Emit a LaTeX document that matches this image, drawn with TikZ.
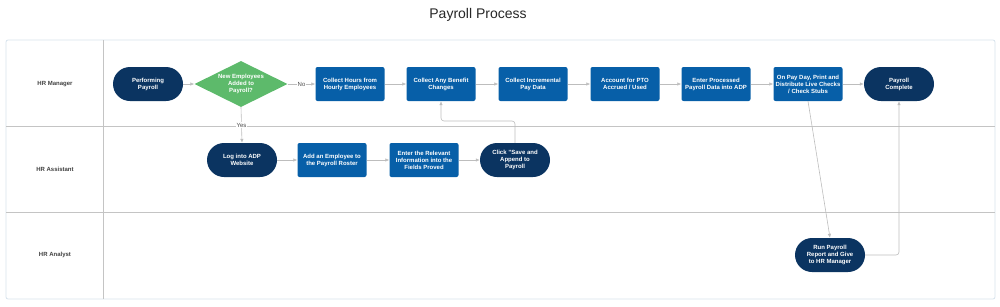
\documentclass[tikz,border=0pt]{standalone}
\usepackage{fontspec}
\setmainfont{Liberation Sans}
\usetikzlibrary{shapes.geometric,arrows.meta}
\definecolor{navy}{HTML}{0B3461}
\definecolor{boxblue}{HTML}{075FA8}
\definecolor{dgreen}{HTML}{5DBA6B}
\definecolor{lnc}{HTML}{BDBDBD}
\definecolor{frame}{HTML}{D6E2EC}
\definecolor{lane}{HTML}{C4C4C4}
\tikzset{
  stadium/.style={draw=none,fill=navy,rounded corners=17pt,minimum width=70pt,minimum height=34pt,
    text=white,font=\fontsize{6}{7}\selectfont\bfseries,align=center,inner sep=1pt},
  bluebox/.style={draw=none,fill=boxblue,rounded corners=2pt,minimum width=69pt,minimum height=34pt,
    text=white,font=\fontsize{6}{7}\selectfont\bfseries,align=center,inner sep=1pt},
  decision/.style={diamond,fill=dgreen,aspect=2,minimum width=93pt,minimum height=46pt,inner sep=0pt,
    text=white,font=\fontsize{6}{7}\selectfont\bfseries,align=center},
  arr/.style={draw=lnc,line width=0.6pt,-{Latex[length=4pt,width=3.5pt]}},
  lanelbl/.style={font=\fontsize{6}{7}\selectfont\bfseries,text=black!75},
  edgelbl/.style={fill=white,inner sep=1pt,font=\fontsize{6}{7}\selectfont,text=black!70}
}
\begin{document}
\begin{tikzpicture}[x=1pt,y=-1pt]
\useasboundingbox (0,0) rectangle (1000,306);
% title
\node[font=\fontsize{14}{16}\selectfont,text=black!85] (title) at (478,15) {Payroll Process};
% frame and lanes
\draw[frame,line width=0.8pt,rounded corners=2pt] (6,40) rectangle (995,299);
\draw[lane,line width=0.8pt] (6,126) -- (995,126);
\draw[lane,line width=0.8pt] (6,212) -- (995,212);
\draw[lane,line width=0.8pt] (103,40) -- (103,299);
\node[lanelbl] (l1) at (55,84) {HR Manager};
\node[lanelbl] (l2) at (55,169) {HR Assistant};
\node[lanelbl] (l3) at (55,255) {HR Analyst};
% row 1
\node[stadium] (perf) at (148,84) {Performing\\Payroll};
\node[decision] (dec) at (241,84) {New Employees\\Added to\\Payroll?};
\node[bluebox] (hours) at (350,84) {Collect Hours from\\Hourly Employees};
\node[bluebox] (benefit) at (441,84) {Collect Any Benefit\\Changes};
\node[bluebox] (incr) at (533,84) {Collect Incremental\\Pay Data};
\node[bluebox] (pto) at (625,84) {Account for PTO\\Accrued / Used};
\node[bluebox] (enter) at (716,84) {Enter Processed\\Payroll Data into ADP};
\node[bluebox] (payday) at (808,84) {On Pay Day, Print and\\Distribute  Live Checks\\/ Check Stubs};
\node[stadium] (complete) at (899,84) {Payroll\\Complete};
% row 2
\node[stadium] (login) at (242,160) {Log into ADP\\Website};
\node[bluebox] (addemp) at (332,160) {Add an Employee to\\the Payroll Roster};
\node[bluebox] (relev) at (424,160) {Enter the Relevant\\Information into the\\Fields Proved};
\node[stadium] (click) at (515,160) {Click "Save and\\Append to\\Payroll};
% row 3
\node[stadium] (run) at (830,255) {Run Payroll\\Report and Give\\to HR Manager};
% connectors
\draw[arr] (perf) -- (dec);
\draw[arr] (dec) -- node[edgelbl] (nolbl) {No} (hours);
\draw[arr] (dec.south) -- node[edgelbl,pos=0.5] (yeslbl) {Yes} (login.north);
\draw[arr] (hours) -- (benefit);
\draw[arr] (benefit) -- (incr);
\draw[arr] (incr) -- (pto);
\draw[arr] (pto) -- (enter);
\draw[arr] (enter) -- (payday);
\draw[arr] (payday) -- (complete);
\draw[arr] (login) -- (addemp);
\draw[arr] (addemp) -- (relev);
\draw[arr] (relev) -- (click);
\coordinate (bend) at (515,121);
\draw[arr,rounded corners=3pt] (click.north) -- (bend) -| (benefit.south);
\draw[arr] (payday.south) -- (run.north);
\draw[arr,rounded corners=3pt] (run.east) -| (complete.south);
\end{tikzpicture}
\end{document}
